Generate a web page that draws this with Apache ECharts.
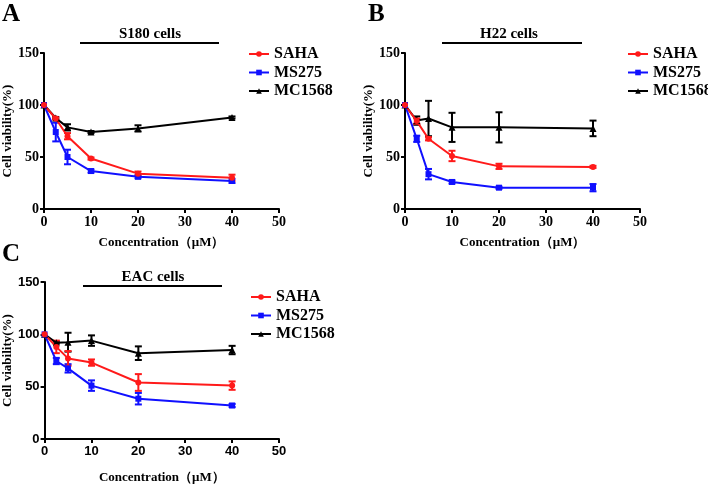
<!DOCTYPE html>
<html><head><meta charset="utf-8">
<script src="https://cdn.jsdelivr.net/npm/echarts@6/dist/echarts.min.js"></script>
<style>html,body{margin:0;padding:0;background:#fff}#c{width:708px;height:485px}</style>
</head><body><div id="c"></div>
<script>
var conc = [0, 2.5, 5, 10, 20, 40];
var seriesNames = ['SAHA', 'MS275', 'MC1568'];
var xTicks = [0, 10, 20, 30, 40, 50];
var yTicks = [0, 50, 100, 150];
var panelLetters = ['A', 'B', 'C'];
var panelTitles = ['S180 cells', 'H22 cells', 'EAC cells'];

var A_SAHA = [100, 87, 70, 48.5, 34, 30];
var A_SAHA_err = [0, 1, 3, 1, 2, 3];
var A_MS275 = [100, 74, 50, 36.5, 31, 27];
var A_MS275_err = [0, 9, 7, 1.5, 1.5, 2];
var A_MC1568 = [100, 87.5, 78.5, 74, 77.5, 88];
var A_MC1568_err = [0, 1, 3, 1, 3, 1];

var B_SAHA = [100, 84.5, 67.5, 51, 41, 40.5];
var B_SAHA_err = [0, 2.5, 1.5, 5, 2.5, 1];
var B_MS275 = [100, 67.5, 33.5, 26, 20.5, 20.5];
var B_MS275_err = [0, 3, 5, 1.5, 1, 3.5];
var B_MC1568 = [100, 85, 87, 78.5, 78.5, 77.5];
var B_MC1568_err = [0, 4, 17, 14, 14.5, 7.5];

var C_SAHA = [100, 88, 77, 73, 54, 51];
var C_SAHA_err = [0, 6, 7, 3, 8, 4];
var C_MS275 = [100, 74.5, 67.5, 51, 38.5, 32];
var C_MS275_err = [0, 3, 4, 5, 5.5, 1.5];
var C_MC1568 = [100, 92, 92.5, 94, 82, 85];
var C_MC1568_err = [0, 1, 9, 5, 6.5, 4];

var panels = [
  {means: [A_SAHA, A_MS275, A_MC1568], errs: [A_SAHA_err, A_MS275_err, A_MC1568_err]},
  {means: [B_SAHA, B_MS275, B_MC1568], errs: [B_SAHA_err, B_MS275_err, B_MC1568_err]},
  {means: [C_SAHA, C_MS275, C_MC1568], errs: [C_SAHA_err, C_MS275_err, C_MC1568_err]}
];

var colors = ['#ff1a1a', '#1010ff', '#000000'];
var symbols = ['circle', 'rect', 'triangle'];
var SERIF = '"Liberation Serif","Times New Roman",serif';
var SANS = '"Liberation Sans",Arial,sans-serif';

var layout = [
  {left: 44, top: 53, width: 235, height: 156, tickFont: SERIF, tickSize: 14, xNameGap: 27, legendLeft: 243, legendTop: 41,
   letterX: 2, letterY: 2, titleX: 150, titleY: 34, lineX1: 80, lineX2: 219, lineY: 43},
  {left: 405, top: 53, width: 235, height: 156, tickFont: SERIF, tickSize: 14, xNameGap: 27, legendLeft: 622, legendTop: 41,
   letterX: 368, letterY: 2, titleX: 509, titleY: 34, lineX1: 442, lineX2: 582, lineY: 43},
  {left: 44, top: 282, width: 235, height: 157, tickFont: SANS, tickSize: 13, xNameGap: 32, legendLeft: 245, legendTop: 284,
   letterX: 2, letterY: 242, titleX: 153, titleY: 277, lineX1: 83, lineX2: 222, lineY: 286}
];

function errRender(params, api) {
  var x = api.value(0), y = api.value(1), e = api.value(2);
  if (!e) return null;
  var t = api.coord([x, y + e]), b = api.coord([x, y - e]);
  var hw = 3.5, st = {stroke: api.visual('color'), lineWidth: 2};
  return {type: 'group', children: [
    {type: 'line', shape: {x1: t[0], y1: t[1], x2: b[0], y2: b[1]}, style: st},
    {type: 'line', shape: {x1: t[0] - hw, y1: t[1], x2: t[0] + hw, y2: t[1]}, style: st},
    {type: 'line', shape: {x1: b[0] - hw, y1: b[1], x2: b[0] + hw, y2: b[1]}, style: st}
  ]};
}

var grids = [], xAxes = [], yAxes = [], series = [], legends = [], graphics = [];
layout.forEach(function (L, p) {
  grids.push({left: L.left, top: L.top, width: L.width, height: L.height, containLabel: false});
  var lbl = {color: '#000', fontFamily: L.tickFont, fontWeight: 'bold', fontSize: L.tickSize};
  xAxes.push({type: 'value', gridIndex: p, min: xTicks[0], max: xTicks[xTicks.length - 1], interval: xTicks[1] - xTicks[0],
    name: 'Concentration（μM）', nameLocation: 'middle', nameGap: L.xNameGap,
    nameTextStyle: {color: '#000', fontFamily: SERIF, fontWeight: 'bold', fontSize: 13},
    axisLine: {onZero: false, lineStyle: {color: '#000', width: 2}},
    axisTick: {show: true, inside: false, length: 4, lineStyle: {color: '#000', width: 2}},
    axisLabel: Object.assign({margin: 6}, lbl), splitLine: {show: false}});
  yAxes.push({type: 'value', gridIndex: p, min: yTicks[0], max: yTicks[yTicks.length - 1], interval: yTicks[1] - yTicks[0],
    name: 'Cell viability(%)', nameLocation: 'middle', nameGap: 28,
    nameTextStyle: {color: '#000', fontFamily: SERIF, fontWeight: 'bold', fontSize: 13},
    axisLine: {onZero: false, lineStyle: {color: '#000', width: 2}},
    axisTick: {show: true, inside: false, length: 4, lineStyle: {color: '#000', width: 2}},
    axisLabel: Object.assign({margin: 5}, lbl), splitLine: {show: false}});
  var P = panels[p];
  [2, 1, 0].forEach(function (s) {
    series.push({type: 'custom', xAxisIndex: p, yAxisIndex: p, renderItem: errRender,
      itemStyle: {color: colors[s]}, z: 3,
      data: conc.map(function (c, i) { return [c, P.means[s][i], P.errs[s][i]]; })});
    series.push({type: 'line', name: seriesNames[s], xAxisIndex: p, yAxisIndex: p,
      symbol: symbols[s], symbolSize: s === 2 ? 7 : 6, showSymbol: true,
      lineStyle: {color: colors[s], width: 2}, itemStyle: {color: colors[s]}, z: 4,
      data: conc.map(function (c, i) { return [c, P.means[s][i]]; })});
  });
  legends.push({left: L.legendLeft, top: L.legendTop, orient: 'vertical', data: seriesNames.slice(),
    itemWidth: 20, itemHeight: 7, itemGap: 2.5,
    textStyle: {color: '#000', fontFamily: SERIF, fontWeight: 'bold', fontSize: 16}});
  graphics.push({type: 'text', left: L.letterX, top: L.letterY,
    style: {text: panelLetters[p], fill: '#000', font: 'bold 25px ' + SERIF}});
  graphics.push({type: 'text', x: L.titleX, y: L.titleY,
    style: {text: panelTitles[p], fill: '#000', font: 'bold 15px ' + SERIF, textAlign: 'center', textVerticalAlign: 'middle'}});
  graphics.push({type: 'line', shape: {x1: L.lineX1, y1: L.lineY, x2: L.lineX2, y2: L.lineY},
    style: {stroke: '#000', lineWidth: 2}});
});

var chart = echarts.init(document.getElementById('c'), null, {renderer: 'canvas'});
chart.setOption({
  backgroundColor: '#fff', animation: false,
  grid: grids, xAxis: xAxes, yAxis: yAxes, series: series, legend: legends, graphic: graphics
});
</script></body></html>
